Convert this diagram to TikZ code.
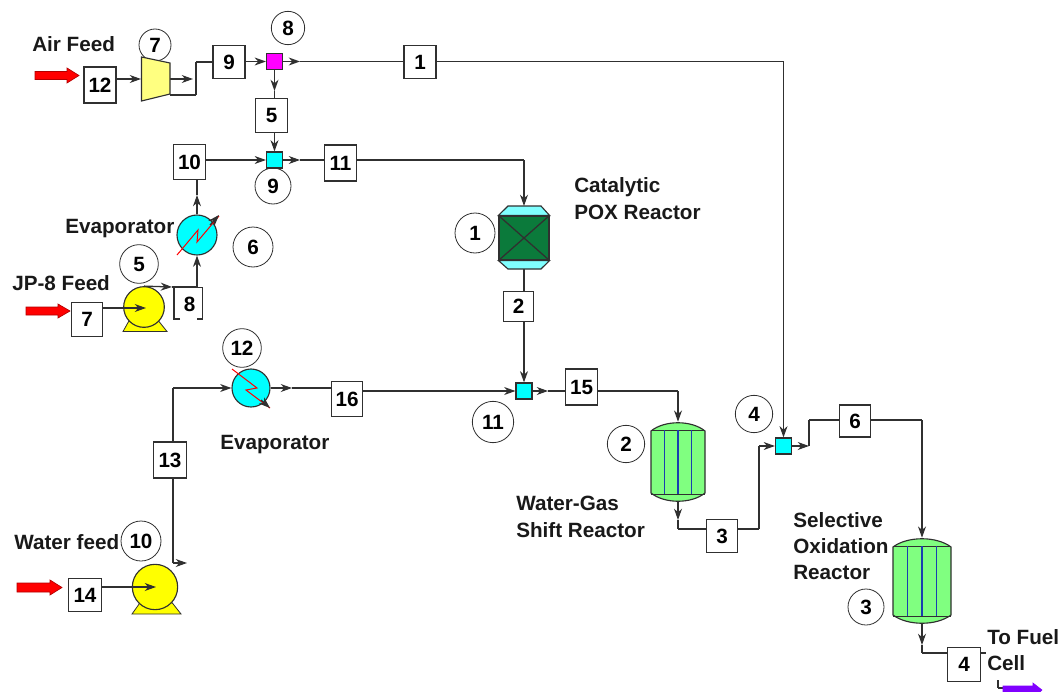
\documentclass[tikz,border=0pt]{standalone}
\usepackage{fontspec}
\setmainfont{Liberation Sans}
\usetikzlibrary{arrows.meta}
\definecolor{mixcyan}{HTML}{00FFFF}
\definecolor{mixpink}{HTML}{FF00FF}
\definecolor{pumpyellow}{HTML}{FFFF00}
\definecolor{compyellow}{HTML}{FFFF80}
\definecolor{feedred}{HTML}{FF0000}
\definecolor{outviolet}{HTML}{8000FF}
\definecolor{tubegreen}{HTML}{80FF80}
\definecolor{tubeblue}{HTML}{1A3FB0}
\definecolor{bedgreen}{HTML}{0B7A3B}
\definecolor{capcyan}{HTML}{80FFFF}
\definecolor{linegray}{HTML}{303030}
\tikzset{
	every edge/.append style={draw=linegray, line width=.95pt},
	flow/.style={-{Stealth[length=8.5pt,width=6pt]}},
	lbl/.style={anchor=base west, inner sep=0pt, text=black!90, font=\fontsize{15.5}{17}\bfseries},
	stream/.style={rectangle, draw=linegray, fill=white, line width=.85pt, minimum width=24pt, minimum height=25pt, inner sep=0pt, font=\fontsize{15.5}{17}\bfseries},
	unit/.style={circle, draw=linegray, fill=white, line width=.6pt, inner sep=0pt, font=\fontsize{15.5}{17}\bfseries},
	mixer/.style={rectangle, draw=linegray, fill=mixcyan, line width=.85pt, minimum size=12pt, inner sep=0pt},
	exch/.style={circle, draw=linegray, fill=mixcyan, line width=.85pt, inner sep=0pt},
	pumpbody/.style={circle, draw=linegray, fill=pumpyellow, line width=.85pt, inner sep=0pt},
	feed/.style={draw=red!70!black, fill=feedred, line width=.5pt},
	hot/.style={draw=feedred, line width=.75pt}
}
\pgfdeclarelayer{background}
\pgfsetlayers{background,main}
\newcommand{\tubereactor}[5]{
	\node[minimum width=#4*1.5pt, minimum height=#5*.75pt, inner sep=0pt] (#1) at (#2,#3+#5/2) {};
	\begin{scope}[shift={(#2,#3)}]
		\draw[draw=linegray, fill=tubegreen, line width=.85pt] (-#4,9) .. controls (-#4*.5,-2) and (#4*.5,-2) .. (#4,9) -- (#4,#5-9) .. controls (#4*.5,#5+2) and (-#4*.5,#5+2) .. (-#4,#5-9) -- cycle;
		\draw[line width=.75pt, linegray] (-#4,8) -- (#4,8);
		\draw[line width=.75pt, linegray] (-#4,#5-8) -- (#4,#5-8);
		\draw[tubeblue, line width=.8pt] (-#4*.5,8) -- (-#4*.5,#5-8);
		\draw[tubeblue, line width=.8pt] (0,8) -- (0,#5-8);
		\draw[tubeblue, line width=.8pt] (#4*.5,8) -- (#4*.5,#5-8);
	\end{scope}
}

\begin{document}
\begin{tikzpicture}[x=.75pt, y=-.75pt]
	\useasboundingbox (0,0) rectangle (1060,692);

	% unit numbers
	\node[unit, minimum size=24pt] (u7) at (155,45) {7};
	\node[unit, minimum size=25pt] (u8) at (288,28) {8};
	\node[unit, minimum size=27pt] (u9) at (273,186) {9};
	\node[unit, minimum size=30pt] (u6) at (253,247) {6};
	\node[unit, minimum size=29pt] (u5) at (139,264) {5};
	\node[unit, minimum size=29pt] (u12) at (242,348) {12};
	\node[unit, minimum size=30pt] (u10) at (141,541) {10};
	\node[unit, minimum size=31pt] (u11) at (493,422) {11};
	\node[unit, minimum size=30pt] (u1) at (475,233) {1};
	\node[unit, minimum size=28pt] (u2) at (626,444) {2};
	\node[unit, minimum size=28pt] (u4) at (754,414) {4};
	\node[unit, minimum size=27pt] (u3) at (866,607) {3};

	% feed arrows
	\draw[feed] (35,71.5) -- (67,71.5) -- (67,68) -- (79,75.5) -- (67,83) -- (67,79.5) -- (35,79.5) -- cycle;
	\draw[feed] (26,307) -- (58,307) -- (58,304) -- (70,311) -- (58,318) -- (58,315) -- (26,315) -- cycle;
	\draw[feed] (17,583) -- (50,583) -- (50,580) -- (62,587.5) -- (50,595) -- (50,592) -- (17,592) -- cycle;
	\path[fill=outviolet, draw=outviolet] (1003,686) -- (1033,686) -- (1033,683) -- (1042,690) -- (1040,692) -- (1003,692) -- cycle;

	% compressor
	\draw[draw=linegray, fill=compyellow, line width=.85pt] (141.5,57) -- (170,63) -- (170,94) -- (141.5,101) -- cycle;

	% pumps
	\draw[draw=linegray, fill=pumpyellow, line width=.6pt] (123,331.5) -- (167,331.5) -- (157,319) -- (130,319) -- cycle;
	\node[pumpbody, minimum size=30.5pt] (p5) at (144,307) {};
	\draw[draw=linegray, fill=pumpyellow, line width=.6pt] (132,614) -- (181,614) -- (170,600) -- (142,600) -- cycle;
	\node[pumpbody, minimum size=34pt] (p10) at (155,587) {};

	% evaporators
	\node[exch, minimum size=30pt] (e6) at (197,235) {};
	\draw[hot] (177,255) -- (198,230) -- (197,242) -- (219,216);
	\coordinate (e6a) at (210,225);
	\coordinate (e6b) at (219,215);
	\node[exch, minimum size=28.5pt] (e12) at (251,388) {};
	\draw[hot] (232,369) -- (257,388) -- (246,390) -- (270,408);
	\coordinate (e12a) at (261,400);
	\coordinate (e12b) at (270,408);
	\draw (e6a) edge[flow] (e6b);
	\draw (e12a) edge[flow] (e12b);

	% POX reactor
	\node[rectangle, draw=linegray, fill=bedgreen, line width=.85pt, minimum width=37.5pt, minimum height=33pt, inner sep=0pt] (r1) at (524,238) {};
	\draw[draw=linegray, fill=capcyan, line width=.85pt] (r1.north west) -- (508,206) -- (541,206) -- (r1.north east) -- cycle;
	\draw[draw=linegray, fill=capcyan, line width=.85pt] (r1.south west) -- (508,269) -- (541,269) -- (r1.south east) -- cycle;
	\draw (r1.north west) edge (r1.south east);
	\draw (r1.north east) edge (r1.south west);

	% tube reactors
	\tubereactor{r2}{678}{422}{27}{80}
	\tubereactor{r3}{922}{538}{29}{86}

	% mixers
	\node[mixer, fill=mixpink] (m8) at (274.5,61.5) {};
	\node[mixer] (m9) at (274.5,160) {};
	\node[mixer] (m11) at (524,391) {};
	\node[mixer] (m4) at (783.5,446) {};

	% stream boxes
	\node[stream, minimum height=27pt] (s12) at (100,85) {12};
	\node[stream] (s9) at (229,62) {9};
	\node[stream] (s1) at (420,62) {1};
	\node[stream] (s5) at (271.5,115.5) {5};
	\node[stream, minimum height=26.5pt] (s10) at (189.5,162) {10};
	\node[stream, minimum height=27pt] (s11) at (340.5,163) {11};
	\node[stream, minimum width=23pt] (s7) at (87,319.5) {7};
	\node[rectangle, minimum width=21pt, minimum height=24pt, inner sep=0pt, font=\fontsize{15.5}{17}\bfseries] (s8) at (189.5,304) {8};
	\draw[line width=.85pt, linegray] (180,319) -- (174,319) -- (174,287.5) -- (202.5,287.5) -- (202.5,319) -- (197,319);
	\node[stream, minimum width=25pt, minimum height=27pt] (s13) at (170,460) {13};
	\node[stream, minimum width=25pt] (s14) at (85,595) {14};
	\node[stream, minimum width=23pt, minimum height=26pt] (s16) at (347,399) {16};
	\node[stream, minimum width=24pt, minimum height=27pt] (s15) at (581.5,387) {15};
	\node[stream, minimum width=22pt, minimum height=23pt] (s2) at (518.5,306.5) {2};
	\node[stream, minimum width=23pt] (s3) at (722,536) {3};
	\node[stream, minimum width=23pt, minimum height=24pt] (s6) at (855,421) {6};
	\node[stream, minimum width=25pt, minimum height=26pt] (s4) at (964,664.5) {4};

	% bends and arrow tips on the lines
	\coordinate (a1) at (141,79);
	\coordinate (a2) at (193,79);
	\coordinate (a3) at (170,79);
	\coordinate (a4) at (170,95);
	\coordinate (a5) at (196,95);
	\coordinate (a6) at (196,62);
	\coordinate (a7) at (300,61.5);
	\coordinate (a8) at (783.5,61.5);
	\coordinate (a9) at (274.5,91);
	\coordinate (a10) at (300,160);
	\coordinate (a11) at (524,160);
	\coordinate (a12) at (524,206);
	\coordinate (a13) at (197,179);
	\coordinate (a14) at (197,195);
	\coordinate (a15) at (197,287);
	\coordinate (a16) at (172,287);
	\coordinate (a17) at (146,308);
	\coordinate (a18) at (524,269);
	\coordinate (a19) at (156,587);
	\coordinate (a20) at (173,563);
	\coordinate (a21) at (187,563);
	\coordinate (a22) at (173,388);
	\coordinate (a23) at (292,388);
	\coordinate (a24) at (548,391);
	\coordinate (a25) at (678,391);
	\coordinate (a26) at (678,502);
	\coordinate (a27) at (678,529);
	\coordinate (a28) at (678,520);
	\coordinate (a29) at (759,529);
	\coordinate (a30) at (759,446);
	\coordinate (a31) at (809,446);
	\coordinate (a32) at (809,420);
	\coordinate (a33) at (922,420);
	\coordinate (a34) at (922,624);
	\coordinate (a35) at (922,653);
	\coordinate (a36) at (922,645);
	\coordinate (a37) at (986,653);
	\coordinate (a38) at (998,680);
	\coordinate (a39) at (998,688);
	\coordinate (a40) at (1004,688);

	\begin{pgfonlayer}{background}
		\draw (s12.east |- a1) edge[flow] (a1);
		\draw (a3) edge[flow] (a2);
		\draw (a4) edge (a5); \draw (a5) edge (a6); \draw (a6) edge (s9.west |- a6);
		\draw (s9.east |- m8) edge[flow] (m8.west);
		\draw (m8.east) edge[flow] (a7); \draw (a7) edge (s1.west |- a7);
		\draw (s1.east |- a8) edge (a8); \draw (a8) edge[flow] (m4.north);
		\draw (m8.south) edge[flow] (a9); \draw (a9) edge (a9 |- s5.north);
		\draw (a9 |- s5.south) edge[flow] (m9.north);
		\draw (s10.east |- m9) edge[flow] (m9.west);
		\draw (m9.east) edge[flow] (a10); \draw (a10) edge (s11.west |- a10);
		\draw (s11.east |- a11) edge (a11); \draw (a11) edge[flow] (a12);
		\draw (e6.north) edge[flow] (a14); \draw (a14) edge (a13);
		\draw (a15) edge[flow] (e6.south);
		\draw (p5.north) edge[flow] (a16); \draw (a16) edge (a15);
		\draw (a18) edge (a18 |- s2.north);
		\draw (a18 |- s2.south) edge[flow] (m11.north);
		\draw (a20) edge[flow] (a21);
		\draw (a20) edge (a20 |- s13.south);
		\draw (a20 |- s13.north) edge (a22);
		\draw (a22) edge[flow] (e12.west);
		\draw (e12.east) edge[flow] (a23); \draw (a23) edge (s16.west |- a23);
		\draw (s16.east |- m11) edge[flow] (m11.west);
		\draw (m11.east) edge[flow] (a24); \draw (a24) edge (s15.west |- a24);
		\draw (s15.east |- a25) edge (a25); \draw (a25) edge[flow] (r2.north);
		\draw (a26) edge[flow] (a28); \draw (a28) edge (a27);
		\draw (a27) edge (s3.west |- a27);
		\draw (s3.east |- a29) edge (a29); \draw (a29) edge (a30);
		\draw (a30) edge[flow] (m4.west);
		\draw (m4.east) edge[flow] (a31);
		\draw (a31) edge (a32); \draw (a32) edge (s6.west |- a32);
		\draw (s6.east |- a33) edge (a33); \draw (a33) edge[flow] (r3.north);
		\draw (a34) edge[flow] (a36); \draw (a36) edge (a35);
		\draw (a35) edge (s4.west |- a35);
		\draw (s4.east |- a37) edge (a37);
		\draw (a38) edge (a39); \draw (a39) edge (a40);
	\end{pgfonlayer}

	% the feed lines end inside the pumps
	\draw (s7.east |- a17) edge[flow] (a17);
	\draw (s14.east |- a19) edge[flow] (a19);

	% texts
	\node[lbl] (t1) at (32,52) {Air Feed};
	\node[lbl] (t2) at (65,233) {Evaporator};
	\node[lbl] (t3) at (12,290) {JP-8 Feed};
	\node[lbl] (t4) at (220,449) {Evaporator};
	\node[lbl] (t5) at (14,549) {Water feed};
	\node[lbl] (t6) at (574,192) {Catalytic};
	\node[lbl] (t7) at (574,219) {POX Reactor};
	\node[lbl] (t8) at (516,510) {Water-Gas};
	\node[lbl] (t9) at (516,537) {Shift Reactor};
	\node[lbl] (t10) at (793,527) {Selective};
	\node[lbl] (t11) at (793,553) {Oxidation};
	\node[lbl] (t12) at (793,579) {Reactor};
	\node[lbl] (t13) at (987,644) {To Fuel};
	\node[lbl] (t14) at (987,670) {Cell};
\end{tikzpicture}
\end{document}
